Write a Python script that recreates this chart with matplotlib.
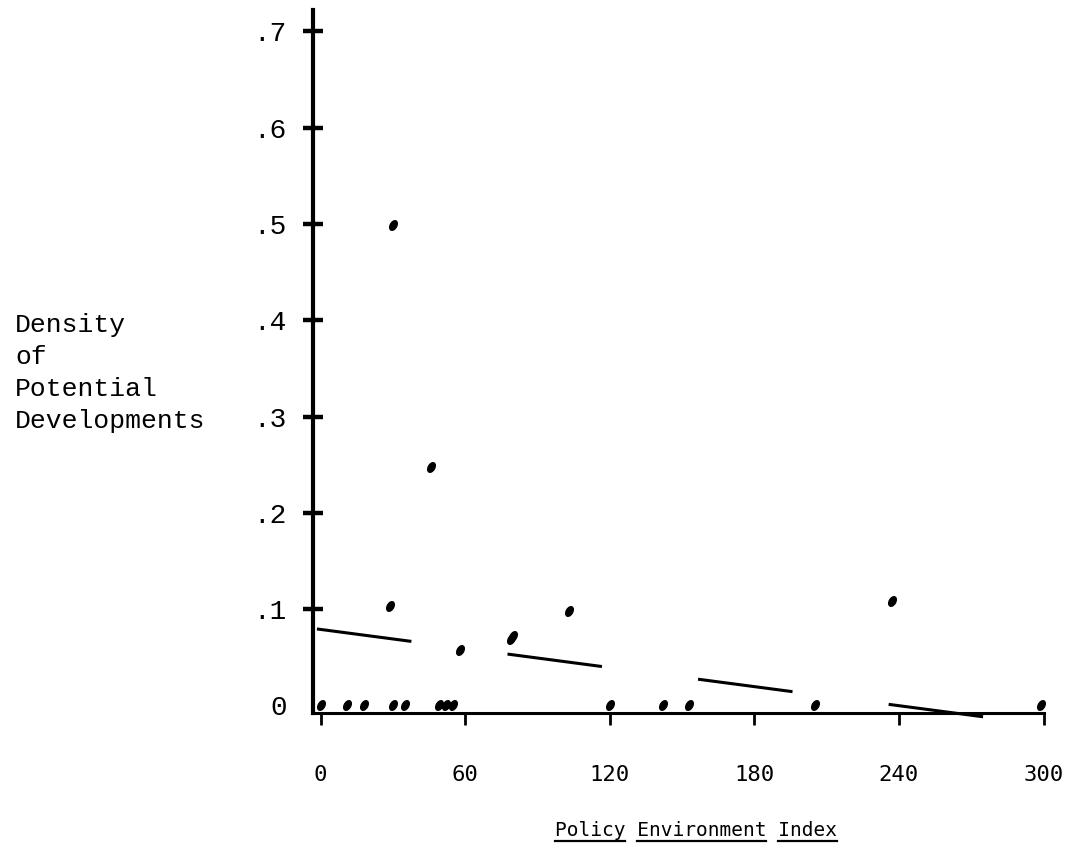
import numpy as np
import matplotlib
matplotlib.use("Agg")
import matplotlib.pyplot as plt
from matplotlib.markers import MarkerStyle
from matplotlib.transforms import Affine2D
from matplotlib.lines import Line2D

# ---- data ----
policy_index = [30, 46, 29, 58, 79, 80, 103, 237,
                0, 11, 18, 30, 35, 49, 52, 55, 120, 142, 153, 205, 299]
density = [0.499, 0.248, 0.103, 0.058, 0.069, 0.072, 0.098, 0.108,
           0, 0, 0, 0, 0, 0, 0, 0, 0, 0, 0, 0, 0]
fit_intercept = 0.079
fit_slope = -0.00033
fit_x_range = [-1.5, 276]
x_ticks = [0, 60, 120, 180, 240, 300]
x_tick_labels = ["0", "60", "120", "180", "240", "300"]
y_ticks = [0, 0.1, 0.2, 0.3, 0.4, 0.5, 0.6, 0.7]
y_tick_labels = ["0", ".1", ".2", ".3", ".4", ".5", ".6", ".7"]
y_label_lines = ["Density", "of", "Potential", "Developments"]
x_label = "Policy Environment Index"

plt.rcParams["lines.scale_dashes"] = False
W_PX, H_PX = 1065, 856
fig = plt.figure(figsize=(W_PX / 100, H_PX / 100), dpi=100)
ax = fig.add_axes([313.3 / W_PX, 1 - 713.2 / H_PX, 730.2 / W_PX, 703.0 / H_PX])
ax.set_xlim(-3, 300)
ax.set_ylim(-0.008, 0.722)

for s in ["top", "right"]:
    ax.spines[s].set_visible(False)
ax.spines["left"].set_linewidth(3.0)
ax.spines["bottom"].set_linewidth(2.2)

# points
mk = MarkerStyle("o", transform=Affine2D().scale(0.62, 1.0).rotate_deg(-30))
ax.plot(policy_index, density, linestyle="none", marker=mk, markersize=7.5,
        color="black", clip_on=False, zorder=3)

# fitted line (long dashes)
fx = np.array(fit_x_range)
fy = fit_intercept + fit_slope * fx
ax.plot(fx, fy, color="black", linewidth=2.2, linestyle=(0, (68.6, 69.8)),
        solid_capstyle="butt", dash_capstyle="butt", clip_on=False, zorder=2)

# ticks
mono_serif = ["Liberation Mono", "DejaVu Sans Mono"]
ax.set_xticks(x_ticks)
ax.set_xticklabels(x_tick_labels, fontfamily=["DejaVu Sans Mono"], fontsize=16)
ax.set_yticks(y_ticks)
ax.set_yticklabels(y_tick_labels, fontfamily=mono_serif, fontsize=20)
ax.tick_params(axis="x", direction="out", length=8.6, width=2.0, pad=29, color="black")
ax.tick_params(axis="y", direction="inout", length=14, width=3.2, pad=12, color="black")
ax.yaxis.get_major_ticks()[0].tick1line.set_visible(False)

# y label (left, stacked lines)
baselines = [332, 364, 396, 428]
for line, b in zip(y_label_lines, baselines):
    fig.text(15 / W_PX, 1 - b / H_PX, line, fontfamily=mono_serif, fontsize=19,
             ha="left", va="baseline")

# x label with word underlines
xl_base = 836
xl = fig.text(695.5 / W_PX, 1 - xl_base / H_PX, x_label, fontfamily=["DejaVu Sans Mono"],
              fontsize=14, ha="center", va="baseline")
fig.canvas.draw()
bb = xl.get_window_extent()
cw = bb.width / len(x_label)
pos = 0
for word in x_label.split(" "):
    x0 = bb.x0 + pos * cw
    x1 = x0 + len(word) * cw
    yy = (H_PX - xl_base) - 5
    fig.add_artist(Line2D([x0 / W_PX, x1 / W_PX], [yy / H_PX, yy / H_PX],
                          transform=fig.transFigure, color="black", linewidth=1.6))
    pos += len(word) + 1

fig.savefig("out.png", dpi=100)
